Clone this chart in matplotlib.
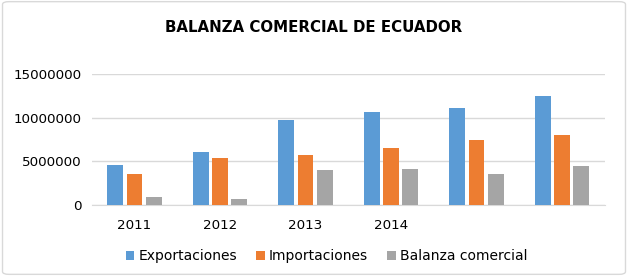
import numpy as np
import matplotlib
matplotlib.use("Agg")
import matplotlib.pyplot as plt
from matplotlib.patches import FancyBboxPatch

# Data
years = ["2011", "2012", "2013", "2014", "", ""]
exportaciones = [4600000, 6050000, 9730000, 10600000, 11100000, 12500000]
importaciones = [3600000, 5400000, 5770000, 6500000, 7500000, 8000000]
balanza = [960000, 650000, 3960000, 4070000, 3530000, 4500000]

series = [
    ("Exportaciones", exportaciones, "#5B9BD5"),
    ("Importaciones", importaciones, "#ED7D31"),
    ("Balanza comercial", balanza, "#A5A5A5"),
]

plt.rcParams['font.family'] = ['DejaVu Sans']

fig = plt.figure(figsize=(6.28, 2.76), dpi=100)
ax = fig.add_axes([0.146, 0.257, 0.817, 0.475])

x = np.arange(len(years))
width = 0.185
step = 0.225
for i, (label, vals, color) in enumerate(series):
    ax.bar(x + (i - 1) * step, vals, width=width, color=color, label=label, zorder=3)

ax.set_xlim(-0.5, len(years) - 0.5)
ax.set_ylim(0, 15000000)
ax.set_yticks([0, 5000000, 10000000, 15000000])
ax.set_yticklabels(["0", "5000000", "10000000", "15000000"], fontsize=9.7)
ax.set_xticks(x)
ax.set_xticklabels(years, fontsize=9.7)
ax.tick_params(length=0, pad=10)
ax.tick_params(axis='y', pad=7)
ax.grid(axis='y', color='#D9D9D9', linewidth=1, zorder=0)
for s in ['top', 'right', 'left']:
    ax.spines[s].set_visible(False)
ax.spines['bottom'].set_color('#D9D9D9')

fig.text(0.5, 0.9, "BALANZA COMERCIAL DE ECUADOR", ha='center', va='center',
         fontsize=10.8, fontweight='bold')

fig.legend(loc='center', bbox_to_anchor=(0.52, 0.072), ncol=3, frameon=False,
           fontsize=10, handlelength=0.6, handleheight=0.6, handletextpad=0.3,
           columnspacing=1.4)

border = FancyBboxPatch((0.004, 0.006), 0.992, 0.988, boxstyle="round,pad=0,rounding_size=0.01",
                        transform=fig.transFigure, fill=False, edgecolor='#D9D9D9', linewidth=1)
fig.patches.append(border)

fig.savefig("out.png", dpi=100)
